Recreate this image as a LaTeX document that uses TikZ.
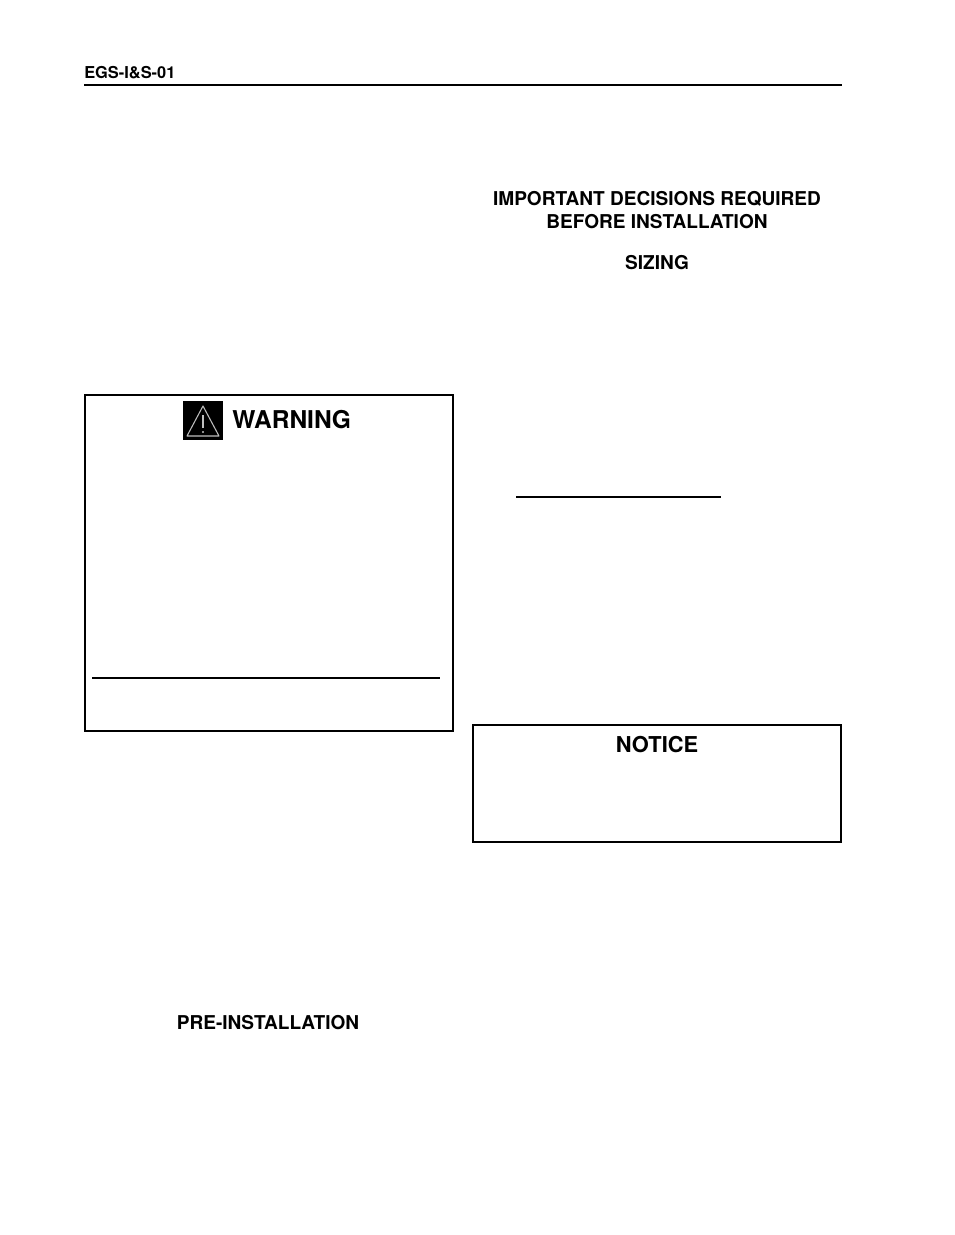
\documentclass[tikz,border=0pt]{standalone}
\usepackage{fontspec}
\setmainfont{TeX Gyre Heros}
\begin{document}
\begin{tikzpicture}[x=0.75pt,y=-0.75pt,
    head/.style={font=\bfseries\fontsize{14.3}{16}\selectfont, inner sep=0pt},
    box/.style={draw, line width=1.5pt},
  ]
  \useasboundingbox (0,0) rectangle (954,1235);
  % page header
  \node[head, anchor=west, font=\bfseries\fontsize{12.3}{14}\selectfont] (docid) at (84,73) {EGS-I\&S-01};
  \draw[line width=2.2pt] (84,85) -- (842,85);
  % right column headings
  \node[head] (decide1) at (657,199) {IMPORTANT DECISIONS REQUIRED};
  \node[head] (decide2) at (657,222) {BEFORE INSTALLATION};
  \node[head] (sizing) at (657,263) {SIZING};
  \draw[line width=0.8pt] (516,497) -- (721,497);
  % warning box
  \draw[box] (85,395) rectangle (453,731);
  \fill (183,401) rectangle (223,440);
  \draw[white!75!black, line width=0.8pt, line join=round] (203,406) -- (219,436) -- (187,436) -- cycle;
  \draw[white!75!black, line width=1pt] (203,415) -- (203,428);
  \fill[white!75!black] (203,432) circle (1.1);
  \node[head, anchor=west, font=\bfseries\fontsize{18.4}{20}\selectfont] (warning) at (232,420) {WARNING};
  \draw[line width=1.5pt] (92,678) -- (440,678);
  % notice box
  \draw[box] (473,725) rectangle (841,842);
  \node[head, font=\bfseries\fontsize{16.4}{18}\selectfont] (notice) at (657,745) {NOTICE};
  % left column heading
  \node[head] (preinst) at (268,1023) {PRE-INSTALLATION};
\end{tikzpicture}
\end{document}
